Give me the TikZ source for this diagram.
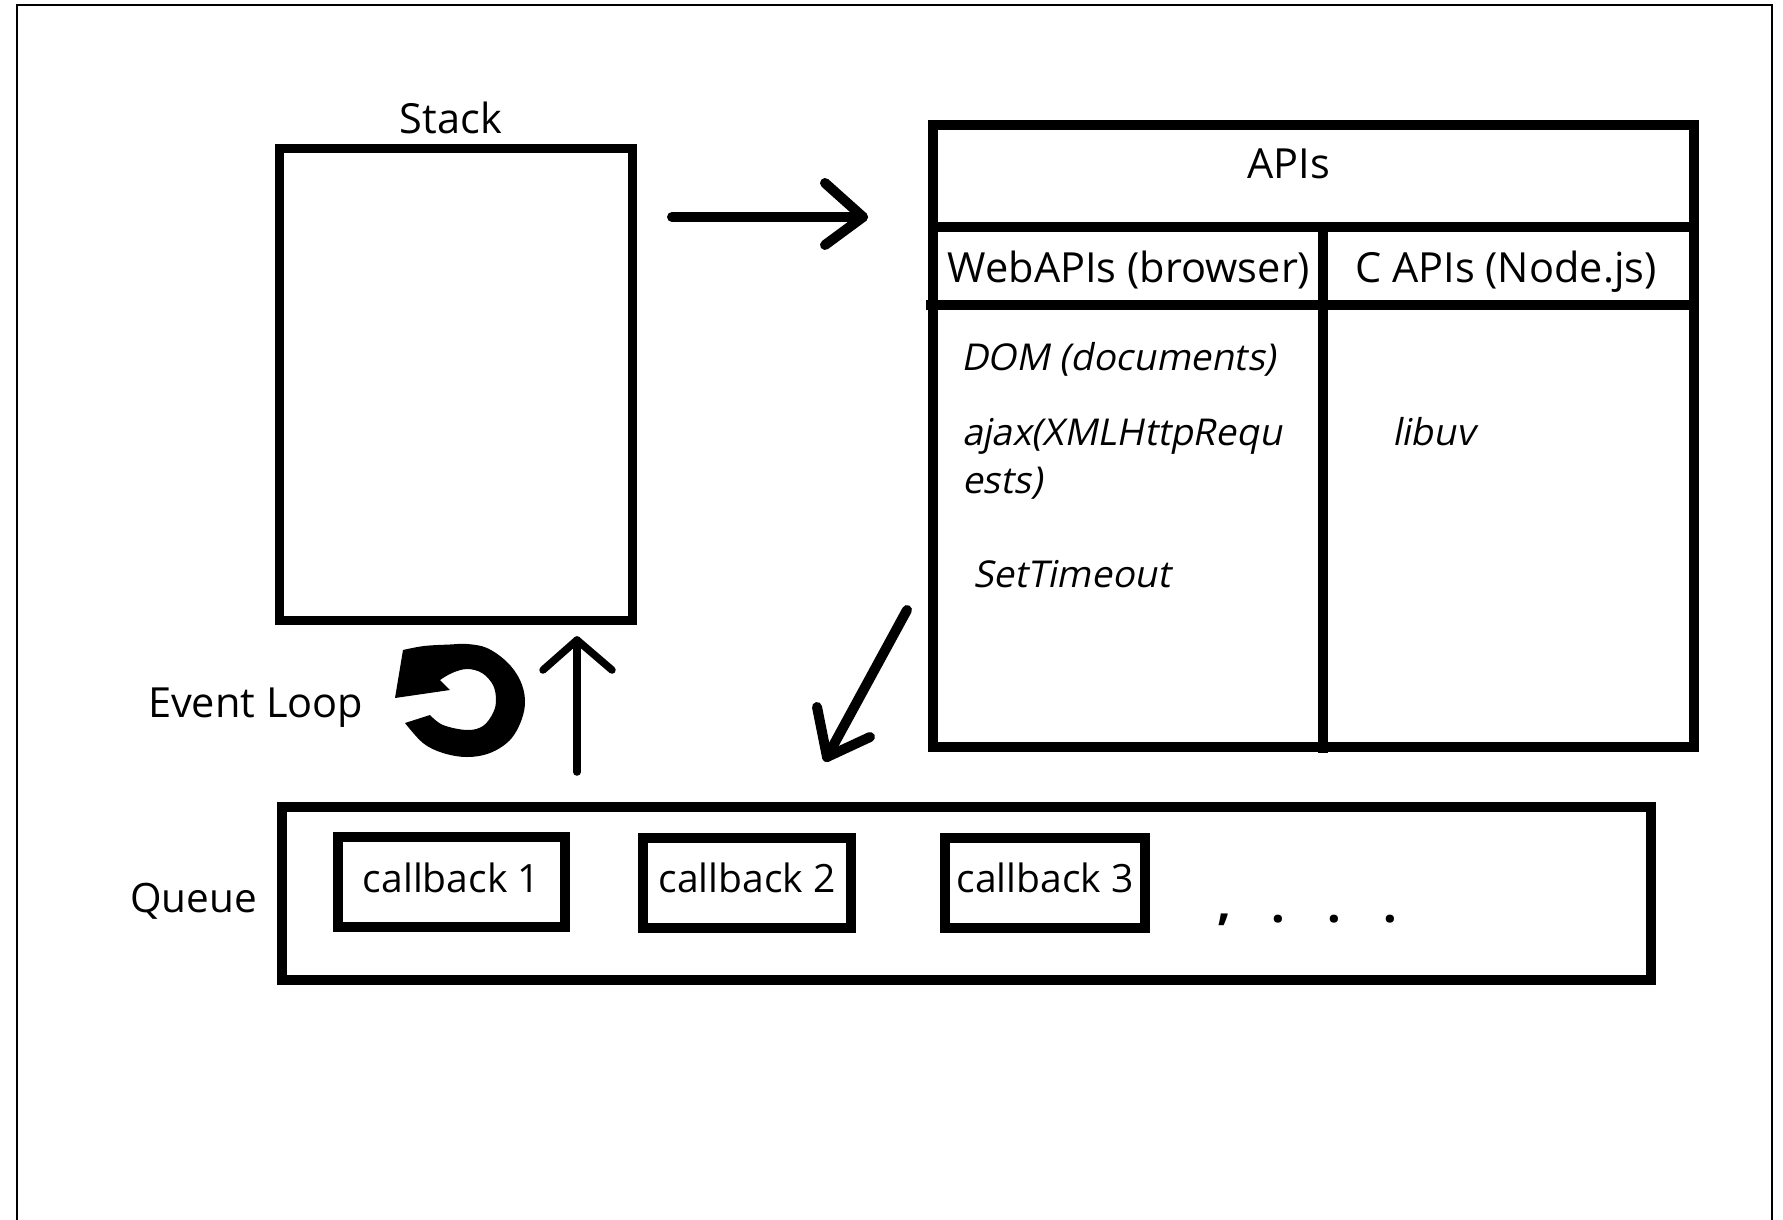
\documentclass[tikz,border=0pt]{standalone}
\usepackage{fontspec}
\setmainfont{Open Sans}
\newfontfamily\slantfont[FakeSlant=0.2]{Open Sans}
\begin{document}
\begin{tikzpicture}[x=1pt, y=-1pt,
  font=\fontsize{41.5}{50}\selectfont,
  frame/.style={draw, rectangle, line width=10pt, inner sep=0pt, outer sep=0pt},
  txt/.style={inner sep=0pt, outer sep=0pt},
  slanted/.style={txt, anchor=base west, font={\slantfont\fontsize{37}{45}\selectfont}},
  cbox/.style={frame, minimum height=90pt, text height=30pt, text depth=10pt,
               font=\fontsize{39}{47}\selectfont},
  stroke/.style={line width=10pt, line cap=round, line join=round},
  divider/.style={line width=10pt},
  dotmark/.style={txt, anchor=base, font=\fontsize{48}{48}\selectfont\bfseries}]

\useasboundingbox (0,0) rectangle (1783,1219);
\fill[white] (0,0) rectangle (1783,1219);

% sheet edge (open at the bottom)
\draw[line width=2.5pt] (17,1230) -- (17,5) -- (1772,5) -- (1772,1230);

% ---------- call stack ----------
\node[frame, line width=9pt, minimum width=353pt, minimum height=472pt] (stack) at (455.5,384) {};
\node[txt, anchor=base] (stacklbl) at (451,133) {Stack};

% ---------- APIs table ----------
\node[frame, minimum width=761pt, minimum height=622pt] (apis) at (1313.5,436) {};
\coordinate (row1) at (933,227);
\coordinate (row2) at (926,305);
\coordinate (coltop) at (1323,227);
\coordinate (colbot) at (1323,753);
\draw[divider] (row1) -- (row1 -| apis.east);
\draw[divider] (row2) -- (row2 -| apis.east);
\draw[divider] (coltop) -- (colbot);

\node[txt, anchor=base] (apititle) at (1289,178) {APIs};
\node[txt, anchor=base] (webapis) at (1129,282) {WebAPIs (browser)};
\node[txt, anchor=base] (capis) at (1506,282) {C APIs (Node.js)};

\node[slanted] (dom) at (961,370) {DOM (documents)};
\node[slanted] (ajax) at (962,445) {ajax(XMLHttpRequ};
\node[slanted] (ajaxrest) at (962,493) {ests)};
\node[slanted] (timeout) at (973,587) {SetTimeout};
\node[slanted] (libuv) at (1392,445) {libuv};

% ---------- arrows ----------
% stack -> APIs
\coordinate (callfrom) at (672,217);
\coordinate (callto) at (863,217);
\draw[stroke] (callfrom) -- (callto);
\draw[stroke] (callto) ++(-38,-34) -- (callto) -- ++(-38,28);

% APIs -> queue
\coordinate (donefrom) at (907,610);
\coordinate (doneto) at (827,757);
\draw[stroke] (donefrom) -- (doneto);
\draw[stroke] (doneto) ++(-10,-50) -- (doneto) -- ++(43,-20);

% queue -> stack
\coordinate (popfrom) at (577,772);
\coordinate (popto) at (577,640);
\draw[stroke, line width=7.5pt] (popfrom) -- (popto);
\draw[stroke, line width=7.5pt] (popto) ++(-34,30) -- (popto) -- ++(35,30);

% ---------- event loop ----------
\node[txt, anchor=base west] (evloop) at (148,717) {Event Loop};
% heavy counter-clockwise arrow: head, outer rim, cut end, inner rim
\fill (395,698)
  -- (403,650)
  -- plot[smooth, tension=0.6] coordinates {(403,650) (424,646) (450,644.5) (467,644)
       (487,648) (507,662) (520,680) (525,700) (521.5,720) (510,740) (490,753)
       (467,757) (443,753) (423,743) (405,723)}
  -- (430,715)
  -- plot[smooth, tension=0.6] coordinates {(430,715) (443,725) (467,730) (483,726)
       (493,713) (496,700) (493,685) (482,673) (467,669) (452,673) (440,680)}
  -- (450,690) -- cycle;

% ---------- callback queue ----------
\node[txt, anchor=base west, font=\fontsize{40.5}{48}\selectfont] (queuelbl) at (130,912) {Queue};
\node[frame, minimum width=1369pt, minimum height=173pt] (queue) at (966.5,893.5) {};
\node[cbox, minimum width=227pt] (cb1) at (451.5,882) {callback 1};
\node[cbox, minimum width=208pt] (cb2) at (747,882.5) {callback 2};
\node[cbox, minimum width=200pt] (cb3) at (1045,882.5) {callback 3};

\node[dotmark] (more0) at (1224,919) {,};
\node[dotmark] (more1) at (1278,922) {.};
\node[dotmark] (more2) at (1334,922) {.};
\node[dotmark] (more3) at (1390,922) {.};
\end{tikzpicture}
\end{document}
